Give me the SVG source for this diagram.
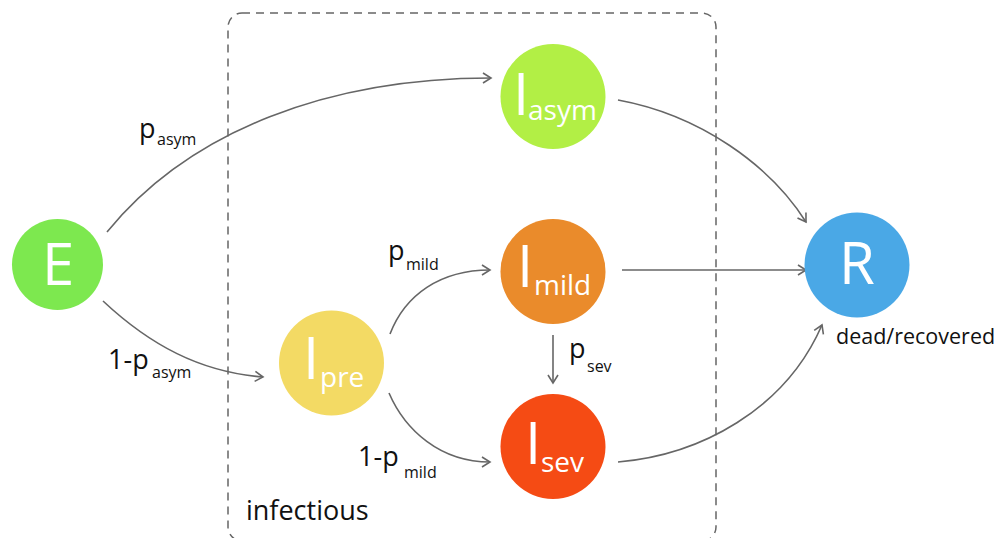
<svg xmlns="http://www.w3.org/2000/svg" width="995" height="538" viewBox="0 0 995 538">
<style>
.lbl{font-family:"Open Sans","Liberation Sans",sans-serif;fill:#111}
.nt{font-family:"Open Sans","Liberation Sans",sans-serif;fill:#fff}
.edge{fill:none;stroke:#666;stroke-width:1.6}
</style>
<defs>
<marker id="arr" markerUnits="userSpaceOnUse" markerWidth="14" markerHeight="14" refX="9" refY="6" orient="auto">
<path d="M1,1 L9,6 L1,11" fill="none" stroke="#666" stroke-width="1.6"/>
</marker>
</defs>
<rect x="228" y="13" width="488" height="528" rx="14" fill="none" stroke="#666" stroke-width="1.5" stroke-dasharray="8,6"/>
<g id="connectors">
<path class="edge" d="M107,232 C190,130 330,78 491,78" marker-end="url(#arr)"/>
<path class="edge" d="M103,301 C150,345 200,372 263,377" marker-end="url(#arr)"/>
<path class="edge" d="M390,334 C405,295 440,270 490,270" marker-end="url(#arr)"/>
<path class="edge" d="M389,393 C405,430 440,462 490,462" marker-end="url(#arr)"/>
<path class="edge" d="M618,100 C700,115 770,165 806,222" marker-end="url(#arr)"/>
<path class="edge" d="M622,270 L806,270" marker-end="url(#arr)"/>
<path class="edge" d="M553,335 L553,383" marker-end="url(#arr)"/>
<path class="edge" d="M618,462 C700,455 785,410 822,325" marker-end="url(#arr)"/>
</g>
<g id="E">
<circle cx="57.5" cy="264.5" r="45.5" fill="#7de84f"/>
<text class="nt" x="58" y="285" font-size="58" text-anchor="middle">E</text>
</g>
<g id="I_asym">
<circle cx="553" cy="96.5" r="52.5" fill="#b2ef45"/>
<text class="nt" x="513" y="115" font-size="58">I</text>
<text class="nt" x="528" y="120" font-size="28">asym</text>
</g>
<g id="I_pre">
<circle cx="331.5" cy="363" r="52.5" fill="#f3da64"/>
<text class="nt" x="303" y="379" font-size="58">I</text>
<text class="nt" x="320" y="387" font-size="28">pre</text>
</g>
<g id="I_mild">
<circle cx="553" cy="271.5" r="52.5" fill="#ea8b2b"/>
<text class="nt" x="517" y="287" font-size="58">I</text>
<text class="nt" x="534" y="295" font-size="28">mild</text>
</g>
<g id="I_sev">
<circle cx="553" cy="446.5" r="52.5" fill="#f54b14"/>
<text class="nt" x="525" y="464" font-size="58">I</text>
<text class="nt" x="541" y="472" font-size="28">sev</text>
</g>
<g id="R">
<circle cx="857" cy="265" r="52.5" fill="#4aa8e6"/>
<text class="nt" x="857" y="284" font-size="58" text-anchor="middle">R</text>
<text class="lbl" x="836" y="344" font-size="21.5">dead/recovered</text>
</g>
<g id="labels">
<text class="lbl" x="139" y="138" font-size="27">p</text>
<text class="lbl" x="157" y="145" font-size="16">asym</text>
<text class="lbl" x="108" y="369" font-size="27">1-p</text>
<text class="lbl" x="152" y="378" font-size="16">asym</text>
<text class="lbl" x="388" y="260" font-size="27">p</text>
<text class="lbl" x="406" y="270" font-size="16">mild</text>
<text class="lbl" x="358" y="466" font-size="27">1-p</text>
<text class="lbl" x="404" y="478" font-size="16">mild</text>
<text class="lbl" x="569" y="358" font-size="27">p</text>
<text class="lbl" x="587" y="372" font-size="16">sev</text>
<text class="lbl" x="246" y="520" font-size="27">infectious</text>
</g>
</svg>
